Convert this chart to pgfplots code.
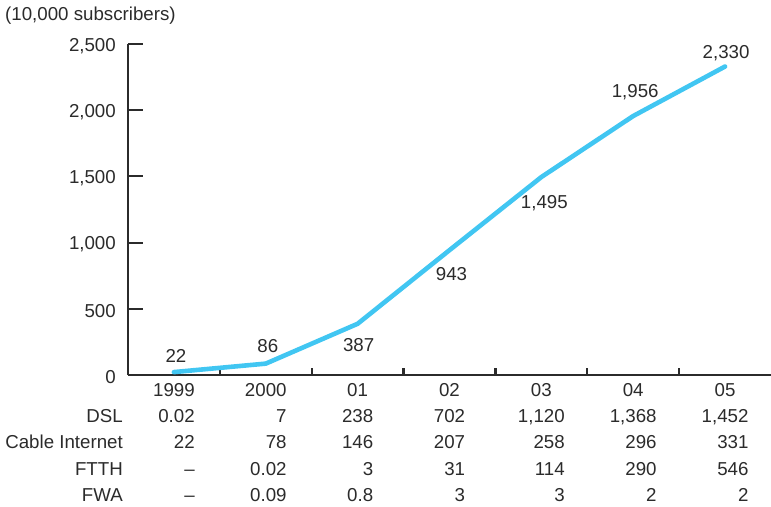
\documentclass[border=0pt]{standalone}
\usepackage{pgfplots}
\pgfplotsset{compat=1.18}
\usepackage{fontspec}
\setmainfont{Liberation Sans}
\definecolor{linec}{HTML}{41C6F2}
\definecolor{txt}{HTML}{2B2B2B}
\newcommand\lblfont{\fontsize{18.7bp}{26.3bp}\selectfont}
\newcommand\col[5]{\begin{tabular}{@{}r@{}}\multicolumn{1}{@{}c@{}}{#1}\\#2\\#3\\#4\\#5\end{tabular}}
\begin{document}
\begin{tikzpicture}
\begin{axis}[
  at={(0,0)}, anchor=south west,
  scale only axis, width=643bp, height=331bp,
  xmin=-0.5, xmax=6.5, ymin=0, ymax=2500,
  clip=false,
  axis x line=bottom, axis y line=left,
  axis line style={-, line width=2.2bp, color=txt},
  tick align=inside,
  major tick length=15bp, minor tick length=7bp,
  every tick/.style={line width=2.2bp, color=txt},
  major x tick style={draw=none},
  ytick={0,500,...,2500},
  xtick={0,...,6},
  minor xtick={0.5,1.5,...,5.5},
  xticklabels={
    {\col{1999}{0.02}{22}{--}{--}},
    {\col{2000}{7}{78}{0.02}{0.09}},
    {\col{01}{238}{146}{3}{0.8}},
    {\col{02}{702}{207}{31}{3}},
    {\col{03}{1,120}{258}{114}{3}},
    {\col{04}{1,368}{296}{290}{2}},
    {\col{05}{1,452}{331}{546}{2}}},
  extra x ticks={-0.5},
  extra x tick labels={{\begin{tabular}{@{}r@{}}\\DSL\\Cable Internet\\FTTH\\FWA\end{tabular}}},
  extra x tick style={xticklabel style={anchor=north east, xshift=-5bp}},
  tick label style={font=\lblfont, text=txt, inner sep=0pt},
  xticklabel style={anchor=north, yshift=-2.6bp},
  yticklabel style={anchor=east, xshift=-12bp, yshift=-2bp},
  /pgf/number format/.cd, 1000 sep={,}, assume math mode=true,
]
\addplot[color=linec, line width=4.6bp, line cap=round, line join=round, mark=none,
  point meta=y,
  visualization depends on={\thisrow{dx} \as \dxv},
  visualization depends on={\thisrow{dy} \as \dyv},
  nodes near coords={\pgfmathprintnumber[1000 sep={,}]{\pgfplotspointmeta}},
  every node near coord/.append style={anchor=base, inner sep=0pt,
     xshift={\dxv*1bp}, yshift={\dyv*1bp}, font=\lblfont, text=txt}]
  table[x=x, y=y] {
x y dx dy
0 22 2 10
1 86 2 11.6
2 387 1 -28.2
3 943 2 -30
4 1495 3 -31
5 1956 2 19
6 2330 1 8
};
\end{axis}
\node[anchor=base west, inner sep=0pt, font=\lblfont, text=txt] at (-123bp,354bp) {(10,000 subscribers)};
\pgfresetboundingbox
\path[use as bounding box] (-128bp,-132bp) rectangle (643bp,375bp);
\end{tikzpicture}
\end{document}
